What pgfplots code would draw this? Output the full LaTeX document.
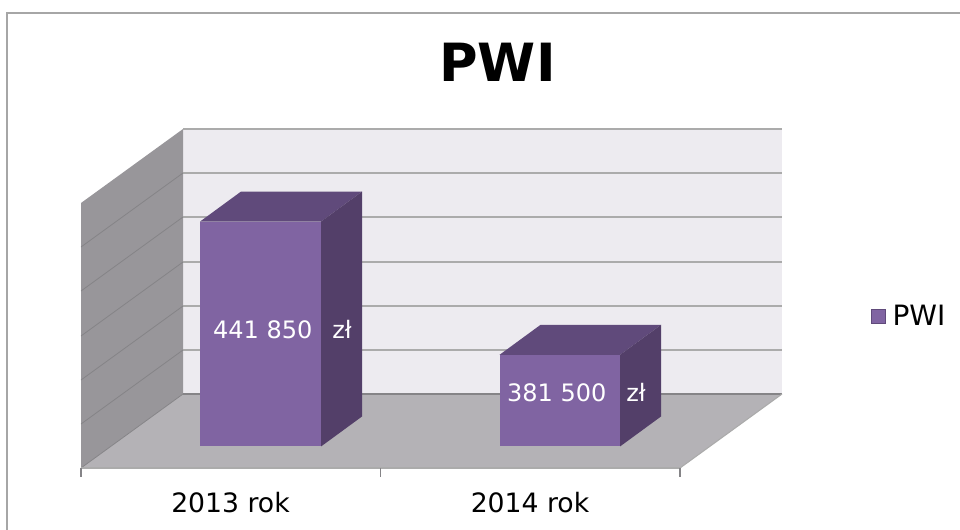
\documentclass[border=0pt]{standalone}
\usepackage{fontspec}
\setmainfont{DejaVu Sans}
\usepackage{pgfplots}
\pgfplotsset{compat=1.18}
\definecolor{barfront}{HTML}{8064A2}
\definecolor{bartop}{HTML}{604A7B}
\definecolor{barside}{HTML}{533F69}
\definecolor{wallback}{HTML}{EDEBF0}
\definecolor{wallside}{HTML}{98969A}
\definecolor{floorc}{HTML}{B4B2B6}
\definecolor{gridc}{HTML}{ABABAB}
\definecolor{gridside}{HTML}{858487}
\definecolor{framec}{HTML}{A6A6A6}
\pgfplotsset{canvas/.style={scale only axis,width=720bp,height=397.5bp,at={(0,0)},anchor=south west,hide axis,xmin=0,xmax=960,clip=true}}
\begin{document}
\begin{tikzpicture}
% scaffold: pixel coordinates of the picture
\begin{axis}[canvas,ymin=0,ymax=530,y dir=reverse]
\addplot[fill=white,draw=none,forget plot] coordinates {(0,0)(960,0)(960,530)(0,530)} -- cycle;
\addplot[framec,line width=1.6bp,forget plot] coordinates {(7,530)(7,13)(960,13)};
\addplot[fill=wallback,draw=none,forget plot] coordinates {(183,129)(782,129)(782,394)(183,394)} -- cycle;
\addplot[fill=wallside,draw=none,forget plot] coordinates {(81,203)(183,129)(183,394)(81,468)} -- cycle;
\addplot[fill=floorc,draw=none,forget plot] coordinates {(81,468)(183,394)(782,394)(680,468)} -- cycle;
% gridlines, back wall
\addplot[gridc,line width=1.8bp,forget plot] coordinates {(183,129)(782,129)};
\addplot[gridc,line width=1.8bp,forget plot] coordinates {(183,173)(782,173)};
\addplot[gridc,line width=1.8bp,forget plot] coordinates {(183,217)(782,217)};
\addplot[gridc,line width=1.8bp,forget plot] coordinates {(183,262)(782,262)};
\addplot[gridc,line width=1.8bp,forget plot] coordinates {(183,306)(782,306)};
\addplot[gridc,line width=1.8bp,forget plot] coordinates {(183,350)(782,350)};
\addplot[gridside,line width=1bp,forget plot] coordinates {(183,394)(782,394)};
% gridlines, side wall
\addplot[gridside,line width=0.6bp,forget plot] coordinates {(81,247)(183,173)};
\addplot[gridside,line width=0.6bp,forget plot] coordinates {(81,291)(183,217)};
\addplot[gridside,line width=0.6bp,forget plot] coordinates {(81,336)(183,262)};
\addplot[gridside,line width=0.6bp,forget plot] coordinates {(81,380)(183,306)};
\addplot[gridside,line width=0.6bp,forget plot] coordinates {(81,424)(183,350)};
\addplot[gridside,line width=0.6bp,forget plot] coordinates {(81,468)(183,394)};
% floor edges and ticks
\addplot[gridc,line width=0.8bp,forget plot] coordinates {(680,468)(782,394)};
\addplot[gridc,line width=1.8bp,forget plot] coordinates {(81,468)(680,468)};
\addplot[gridside,line width=0.8bp,forget plot] coordinates {(81,468)(81,477)};
\addplot[gridside,line width=0.8bp,forget plot] coordinates {(380.5,468)(380.5,477)};
\addplot[gridside,line width=0.8bp,forget plot] coordinates {(680,468)(680,477)};
% texts
\node[font=\fontsize{39.5bp}{42bp}\bfseries,text=black,inner sep=0pt] at (axis cs:497.5,62) {PWI};
\node[font=\fontsize{20bp}{24bp}\selectfont,text=black,inner sep=0pt] at (axis cs:230.5,503) {2013 rok};
\node[font=\fontsize{20bp}{24bp}\selectfont,text=black,inner sep=0pt] at (axis cs:530,503) {2014 rok};
\end{axis}
% bars: x in picture pixels, y in zloty (axis 340000 to 460000 in steps of 20000)
\begin{axis}[canvas,ymin=302189,ymax=542189,
  legend style={at={(axis cs:871,399094)},anchor=west,draw=none,fill=none,inner sep=0pt,
    font=\fontsize{21bp}{24bp}\selectfont,cells={anchor=west},legend cell align=left,
    /tikz/every even column/.append style={column sep=7.5bp}},
  legend image code/.code={\path[fill=barfront,draw=bartop,line width=0.5bp] (0bp,-5.2bp) rectangle (10.5bp,5.3bp);}]
% 2013 rok
\addplot[fill=bartop,draw=none,forget plot] coordinates {(200,441850)(241,455435)(362,455435)(321,441850)} -- cycle;
\addplot[fill=barside,draw=none,forget plot] coordinates {(321,340000)(362,353585)(362,455435)(321,441850)} -- cycle;
\addplot[fill=barfront,draw=none] coordinates {(200,340000)(321,340000)(321,441850)(200,441850)} -- cycle;
\addlegendentry{\hspace{3bp}PWI}
% 2014 rok
\addplot[fill=bartop,draw=none,forget plot] coordinates {(499.5,381500)(540.5,395085)(661,395085)(620,381500)} -- cycle;
\addplot[fill=barside,draw=none,forget plot] coordinates {(620,340000)(661,353585)(661,395085)(620,381500)} -- cycle;
\addplot[fill=barfront,draw=none,forget plot] coordinates {(499.5,340000)(620,340000)(620,381500)(499.5,381500)} -- cycle;
% data labels
\node[font=\fontsize{18bp}{20bp}\selectfont,text=white,inner sep=0pt] at (axis cs:282.5,392755) {441 850\hspace{15bp}zł};
\node[font=\fontsize{18bp}{20bp}\selectfont,text=white,inner sep=0pt] at (axis cs:576.5,364226) {381 500\hspace{15bp}zł};
\end{axis}
\end{tikzpicture}
\end{document}
